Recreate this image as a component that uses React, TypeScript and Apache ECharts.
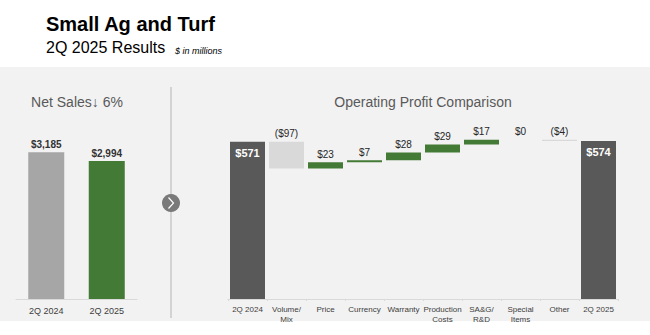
import React, { useEffect, useRef } from "react";
import * as echarts from "echarts";

const salesCategories = ["2Q 2024", "2Q 2025"];
const salesValues = [3185, 2994];
const salesLabels = ["$3,185", "$2,994"];

const opCategories = [
  "2Q 2024",
  "Volume/\nMix",
  "Price",
  "Currency",
  "Warranty",
  "Production\nCosts",
  "SA&G/\nR&D",
  "Special\nItems",
  "Other",
  "2Q 2025",
];
const opChanges = [571, -97, 23, 7, 28, 29, 17, 0, -4, 574];
const opLabels = ["$571", "($97)", "$23", "$7", "$28", "$29", "$17", "$0", "($4)", "$574"];

const FONT = "'Liberation Sans', Arial, sans-serif";
const GREEN = "#437a35";
const DARK = "#595959";
const LIGHT = "#d9d9d9";

export default function App() {
  const ref = useRef<HTMLDivElement>(null);

  useEffect(() => {
    if (!ref.current) return;
    const chart = echarts.init(ref.current, null, { renderer: "svg" });

    // waterfall computation
    const n = opChanges.length;
    const bases: number[] = [];
    const heights: number[] = [];
    let running = 0;
    opChanges.forEach((v, i) => {
      if (i === 0 || i === n - 1) {
        bases.push(0);
        heights.push(v);
        running = v;
      } else if (v >= 0) {
        bases.push(running);
        heights.push(v);
        running += v;
      } else {
        running += v;
        bases.push(running);
        heights.push(-v);
      }
    });

    const opColor = (i: number) => {
      if (i === 0 || i === n - 1) return DARK;
      if (opChanges[i] < 0) return LIGHT;
      return GREEN;
    };

    chart.setOption({
      animation: false,
      backgroundColor: "#ffffff",
      textStyle: { fontFamily: FONT },
      graphic: [
        { type: "rect", shape: { x: 0, y: 67, width: 650, height: 254 }, style: { fill: "#f2f2f2" }, z: -10 },
        { type: "text", left: 46, top: 14, style: { text: "Small Ag and Turf", font: `bold 20px ${FONT}`, fill: "#000" } },
        { type: "text", left: 46, top: 39, style: { text: "2Q 2025 Results", font: `16px ${FONT}`, fill: "#000" } },
        { type: "text", left: 175, top: 46, style: { text: "$ in millions", font: `italic 9px ${FONT}`, fill: "#000" } },
        { type: "text", x: 77, y: 102, style: { text: "Net Sales\u2193 6%", font: `14px ${FONT}`, fill: "#595959", align: "center", verticalAlign: "middle" } },
        { type: "text", x: 423, y: 102, style: { text: "Operating Profit Comparison", font: `14px ${FONT}`, fill: "#595959", align: "center", verticalAlign: "middle" } },
        { type: "line", shape: { x1: 171, y1: 87, x2: 171, y2: 318 }, style: { stroke: "#c8c8c8", lineWidth: 1.5 } },
        { type: "circle", shape: { cx: 171, cy: 203, r: 9 }, style: { fill: "#7a7a7a" } },
        { type: "polyline", shape: { points: [[168.5, 197.5], [173.5, 203], [168.5, 208.5]] }, style: { stroke: "#ffffff", lineWidth: 1.2, fill: "none" } },
      ],
      grid: [
        { left: 16, width: 121, top: 120, height: 179 },
        { left: 228, width: 390, top: 120, height: 179 },
      ],
      xAxis: [
        {
          type: "category",
          gridIndex: 0,
          data: salesCategories,
          axisLine: { lineStyle: { color: LIGHT } },
          axisTick: { show: false },
          axisLabel: { color: "#404040", fontSize: 9, margin: 7, fontFamily: FONT },
        },
        {
          type: "category",
          gridIndex: 1,
          data: opCategories,
          axisLine: { lineStyle: { color: LIGHT } },
          axisTick: { show: true, length: 2, lineStyle: { color: LIGHT } },
          axisLabel: { color: "#404040", fontSize: 8, margin: 5, lineHeight: 10, fontFamily: FONT, interval: 0 },
        },
      ],
      yAxis: [
        { type: "value", gridIndex: 0, min: 0, max: 3886, show: false, splitLine: { show: false } },
        { type: "value", gridIndex: 1, min: 0, max: 650, show: false, splitLine: { show: false } },
      ],
      series: [
        {
          type: "bar",
          xAxisIndex: 0,
          yAxisIndex: 0,
          barWidth: 36,
          data: salesValues.map((v, i) => ({
            value: v,
            itemStyle: { color: i === 0 ? "#a6a6a6" : GREEN },
          })),
          label: {
            show: true,
            position: "top",
            distance: 3,
            formatter: (p: any) => salesLabels[p.dataIndex],
            fontSize: 10,
            fontWeight: "bold",
            color: "#333333",
            fontFamily: FONT,
          },
        },
        {
          type: "bar",
          xAxisIndex: 1,
          yAxisIndex: 1,
          stack: "wf",
          barWidth: 35,
          itemStyle: { color: "transparent" },
          data: bases,
          silent: true,
        },
        {
          type: "bar",
          xAxisIndex: 1,
          yAxisIndex: 1,
          stack: "wf",
          barWidth: 35,
          data: heights.map((h, i) => ({
            value: h,
            itemStyle: { color: opColor(i) },
            label:
              i === 0 || i === n - 1
                ? { position: "insideTop", distance: 6, color: "#ffffff", fontWeight: "bold", fontSize: 11 }
                : { position: "top", distance: 3, color: "#262626", fontSize: 10 },
          })),
          label: {
            show: true,
            formatter: (p: any) => opLabels[p.dataIndex],
            fontFamily: FONT,
          },
        },
      ],
    });

    return () => chart.dispose();
  }, []);

  return (
    <div
      ref={ref}
      style={{ position: "fixed", left: 0, top: 0, width: 650, height: 335 }}
    />
  );
}
